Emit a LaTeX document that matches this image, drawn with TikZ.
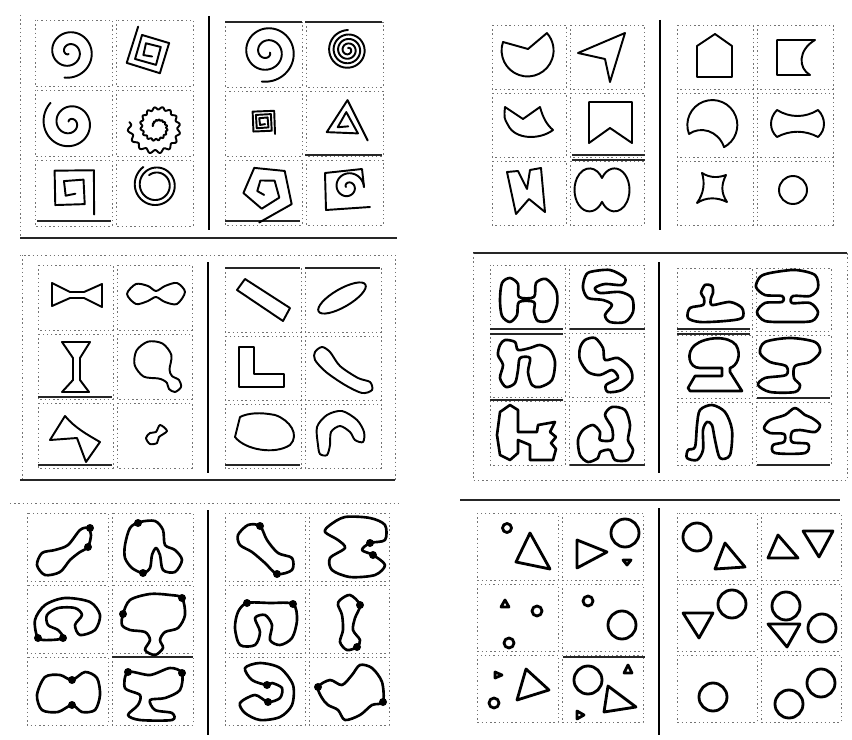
\documentclass[tikz,border=0pt]{standalone}

\begin{document}
\begin{tikzpicture}[x=0.02cm, y=-0.02cm]
    \tikzstyle{figline}=[line width=1.1pt, line join=round, line cap=round]
    \tikzstyle{blobline}=[line width=1.5pt, line join=round]
    \tikzstyle{boldline}=[line width=1.6pt, line join=round]
    \tikzstyle{cell}=[black!55, line width=0.5pt, dash pattern=on 0.8pt off 1.6pt]
    \tikzstyle{rule}=[black!85, line width=0.7pt]
    \tikzstyle{divider}=[line width=1.4pt]
    \tikzstyle{blackdot}=[fill=black]

    \useasboundingbox (0,0) rectangle (852,740);

    % Cell frames (top left corner / width / height of each half)
    \foreach \px/\py/\w/\h in {35/20/77/66, 225/22/77/65, 492/25/74/64, 677/25/76/64,
            38/265/75/65, 225/268/76/64, 490/265/75/64, 677/268/75/63,
            27/513/81/68, 225/513/80/68, 477/513/81/67, 677/513/80/67}
        \foreach \i in {0,1}
            \foreach \j in {0,1,2}
                \draw[cell] ({\px+\i*(\w+4)},{\py+\j*(\h+4)}) rectangle +(\w,\h);

    % Dividers
    \foreach \dx/\ya/\yb in {209/16/230, 660/20/230, 208/262/473, 659/262/473, 208/510/735, 659/508/735}
        \draw[divider] (\dx,\ya) -- (\dx,\yb);

    % Panel frames
    \draw[rule] (20,238) -- (397,238);
    \draw[cell] (20,15) -- (20,238);
    \draw[cell] (20,255) -- (395,255);
    \draw[cell] (22,255) -- (22,480);
    \draw[cell] (395,255) -- (395,480);
    \draw[rule] (20,480) -- (395,480);
    \draw[rule] (473,253) -- (847,253);
    \draw[cell] (473,253) -- (473,480) -- (847,480) -- (847,253);
    \draw[cell] (10,503) -- (400,503);
    \draw[rule] (460,500) -- (840,500);

    % Solid bits of the cell frames
    \foreach \xa/\xb/\ly in {225/302/22, 305/382/22, 305/382/155, 37/111/221, 225/300/221,
            572/645/155, 572/645/160, 38/112/397, 38/112/465, 225/300/268, 305/380/268,
            225/300/465, 490/563/329, 490/563/334, 570/645/329, 490/563/400, 677/750/329,
            677/750/334, 757/830/398, 757/830/465, 570/645/465, 112/193/657, 563/645/657}
        \draw[rule] (\xa,\ly) -- (\xb,\ly);

    % Panel 1: spirals
    \foreach \cx/\cy/\ra/\rb/\turn/\off in {69/52/2/26/720/100, 70/123/2/28/720/226,
            156/185/12/22/720/235, 267/52/3/30/810/10, 348/50/2/20/1440/270, 348/187/2/16/540/180}
        \draw[figline] plot[domain=0:\turn, samples=150, smooth]
            ({\cx+(\ra+(\rb-\ra)*(\x/\turn))*cos(\x+\off)}, {\cy+(\ra+(\rb-\ra)*(\x/\turn))*sin(\x+\off)});
    \foreach \cx/\cy/\ra/\rb/\turn/\s/\off in {150/52/5/28/900/11/65, 263/122/3/17/1080/13/45,
            72/190/5/33/720/9/48, 345/124/4/28/720/7/36, 265/190/5/33/720/11/100}
        \draw[figline] plot[domain=0:\turn, samples=\s]
            ({\cx+(\ra+(\rb-\ra)*(\x/\turn))*cos(\x+\off)}, {\cy+(\ra+(\rb-\ra)*(\x/\turn))*sin(\x+\off)});
    \draw[figline] plot[domain=0:720, samples=300, smooth]
        ({157+(4+24*(\x/720))*(1+0.07*sin(16*\x))*cos(\x+190)}, {127+(4+24*(\x/720))*(1+0.07*sin(16*\x))*sin(\x+190)});
    \draw[figline] (370,207) -- (326,210) -- (325,173) -- (362,169) -- (364,187);

    % Panel 2: polygons and curved shapes
    \draw[figline] (503,42) arc[start angle=199, end angle=-42, radius=26] -- (528,49) -- cycle;
    \draw[figline] (578,53) -- (625,33) -- (610,82) -- (605,59) -- cycle;
    \draw[figline] (505,107) -- (523,119) -- (540,107) .. controls (543,118) and (547,125) .. (553,130)
        .. controls (540,140) and (515,140) .. (508,125) .. controls (504,118) .. cycle;
    \draw[figline] (589,102) -- (632,102) -- (632,143) -- (610,128) -- (589,143) -- cycle;
    \draw[figline] (507,172) -- (518,171) -- (527,189) -- (530,170) -- (541,168) -- (545,212)
        -- (529,199) -- (516,214) -- cycle;
    \draw[figline] (602,178) arc[start angle=-146.4, end angle=146.4, x radius=15, y radius=21.5]
        arc[start angle=33.6, end angle=326.4, x radius=15, y radius=21.5] -- cycle;
    \draw[figline] (697,77) -- (697,46) -- (715,34) -- (732,46) -- (732,77) -- cycle;
    \draw[figline] (777,40) -- (815,40) .. controls (798,50) and (798,68) .. (810,75) -- (777,75) -- cycle;
    \draw[figline] (689,134) arc[start angle=159, end angle=422, radius=25]
        .. controls (718,130) and (700,126) .. cycle;
    \draw[figline] (777,110) .. controls (790,118) and (805,118) .. (818,110)
        .. controls (826,118) and (826,130) .. (818,137) .. controls (805,130) and (790,130) .. (777,137)
        .. controls (769,130) and (769,118) .. cycle;
    \draw[figline] (702,173) .. controls (710,178) and (718,178) .. (726,175)
        .. controls (721,185) and (721,193) .. (727,202) .. controls (717,197) and (706,197) .. (697,203)
        .. controls (704,193) and (705,183) .. cycle;
    \draw[figline] (793,190) circle (14);

    % Panel 3: elongated and compact shapes
    \draw[figline] (52,283) -- (70,292) -- (84,292) -- (102,284) -- (102,307) -- (84,298) -- (70,298) -- (52,306) -- cycle;
    \draw[figline] plot[smooth cycle] coordinates {(127,294) (136,284) (148,286) (156,291) (165,286) (177,283)
        (185,292) (177,304) (165,302) (156,297) (148,301) (136,304)};
    \draw[figline] (62,342) -- (90,342) -- (80,358) -- (80,380) -- (89,392) -- (62,392) -- (73,380) -- (73,358) -- cycle;
    \draw[figline] plot[smooth cycle] coordinates {(157.9,378.4) (143.5,376.5) (134.6,364.9) (136.5,350.5)
        (148.1,341.6) (162.5,343.5) (171.4,355.1) (169.5,369.5) (172,376) (179,380) (181,387) (175,392)
        (169,389) (167,383) (163,380)};
    \draw[figline] (65,416) -- (50,440) -- (77,438) -- (86,462) -- (100,442) .. controls (88,435) and (75,428) .. cycle;
    \draw[figline] plot[smooth cycle] coordinates {(146,438) (150,444) (157,443) (159,437) (167,431)
        (160,425) (156,432) (150,433)};
    \draw[figline] (237,290) -- (245,279) -- (290,308) -- (283,321) -- cycle;
    \draw[figline, rotate around={30:(342,298)}] (342,298) ellipse [x radius=27, y radius=9];
    \draw[figline] (239,347) -- (254,347) -- (254,374) -- (284,374) -- (284,387) -- (239,387) -- cycle;
    \draw[figline] plot[smooth cycle] coordinates {(315,352) (322,347) (330,352) (340,366) (358,378)
        (370,382) (372,390) (362,393) (345,385) (326,372) (315,360)};
    \draw[figline] (240,417) -- (235,437) .. controls (245,450) and (275,455) .. (290,445)
        .. controls (300,435) and (290,420) .. (275,415) .. controls (260,412) and (248,413) .. cycle;
    \draw[figline] plot[smooth cycle] coordinates {(318,445) (317,427) (327,415) (342,411) (357,420)
        (364,432) (363,442) (355,440) (350,432) (340,426) (331,432) (330,445) (327,455) (320,454)};

    % Panel 4: blobs
    \draw[blobline] plot[smooth cycle] coordinates {(510,278) (518,284) (519,297) (534,297) (536,283)
        (546,279) (556,290) (557,305) (550,320) (538,321) (534,312) (534,302) (519,302) (517,315)
        (510,322) (502,316) (500,300) (502,283)};
    \draw[blobline] plot[smooth cycle] coordinates {(590,272) (610,270) (625,278) (622,285) (605,284)
        (595,288) (600,293) (620,292) (632,298) (633,312) (625,322) (610,322) (605,315) (612,305)
        (603,300) (588,298) (583,288) (585,277)};
    \draw[blobline] plot[smooth cycle] coordinates {(505,340) (515,342) (518,350) (530,348) (540,345)
        (550,350) (555,362) (552,380) (540,387) (532,385) (528,372) (530,358) (520,358) (518,370)
        (515,383) (506,387) (500,378) (503,365) (498,355) (500,345)};
    \draw[blobline] plot[smooth cycle] coordinates {(585,340) (595,338) (603,348) (605,360) (618,358)
        (630,368) (632,380) (622,390) (608,392) (606,385) (618,378) (612,370) (600,375) (588,372)
        (580,360) (580,348)};
    \draw[blobline] (500,412) -- (510,405) -- (518,410) -- (518,432) -- (537,432) -- (538,425)
        -- (555,422) -- (550,432) -- (556,437) -- (551,443) -- (556,449) -- (553,460) -- (530,460)
        -- (530,445) -- (518,440) -- (518,453) -- (510,460) -- (500,455) -- (497,435) -- cycle;
    \draw[blobline] plot[smooth cycle] coordinates {(583,430) (593,425) (600,432) (600,440) (612,440)
        (612,428) (605,415) (612,407) (625,410) (630,425) (628,440) (633,450) (628,460) (615,460)
        (610,450) (600,452) (598,458) (588,462) (580,455) (578,440)};
    \draw[blobline] plot[smooth cycle] coordinates {(705,285) (712,286) (713,293) (711,298) (712,305)
        (730,302) (742,308) (742,318) (725,321) (700,322) (688,318) (690,308) (703,305) (704,298)
        (701,293)};
    \draw[blobline] plot[smooth cycle] coordinates {(770,273) (795,270) (815,275) (818,288) (810,296)
        (793,296) (792,303) (810,303) (818,312) (812,321) (790,322) (765,321) (757,312) (765,303)
        (782,302) (782,296) (765,295) (756,287) (760,277)};
    \draw[blobline] (688,388) -- (695,376) -- (722,376) -- (722,368) -- (700,368)
        .. controls (688,368) and (686,352) .. (695,345) .. controls (705,337) and (728,335) .. (736,345)
        .. controls (742,355) and (737,366) .. (730,368) -- (730,372) -- (742,391) -- (690,391) -- cycle;
    \draw[blobline] plot[smooth cycle] coordinates {(765,342) (790,338) (815,342) (820,352) (810,362)
        (795,366) (794,378) (800,385) (795,392) (770,392) (758,385) (765,378) (786,375) (786,366)
        (770,362) (760,353)};
    \draw[blobline] plot[smooth cycle] coordinates {(700,410) (712,405) (725,412) (732,430) (730,455)
        (720,458) (715,440) (712,425) (707,422) (703,430) (703,450) (697,460) (687,458) (688,450)
        (695,447) (697,425)};
    \draw[blobline] plot[smooth cycle] coordinates {(770,420) (785,415) (795,408) (805,415) (812,418)
        (820,425) (815,432) (800,430) (792,432) (792,442) (808,444) (805,453) (775,453) (773,445)
        (784,442) (784,434) (770,433) (764,428)};

    % Panel 5: outlines with marked points
    \draw[blobline] plot[smooth cycle] coordinates {(80,530) (88,528) (91,535) (88,547) (80,552)
        (70,560) (60,572) (45,575) (37,565) (42,553) (55,550) (68,545)};
    \draw[blobline] plot[smooth cycle] coordinates {(125,545) (130,528) (140,522) (155,521) (163,530)
        (165,545) (175,550) (182,560) (175,572) (163,570) (160,555) (156,548) (152,555) (150,568)
        (143,573) (132,568) (125,558)};
    \draw[blobline] plot[smooth cycle] coordinates {(38,638) (35,620) (45,605) (65,598) (90,602)
        (100,615) (95,630) (80,635) (75,625) (82,615) (75,608) (58,608) (47,615) (48,625) (58,630)
        (63,638) (50,640)};
    \draw[blobline] plot[smooth cycle] coordinates {(123,614) (130,600) (150,594) (170,595) (182,598)
        (185,615) (178,628) (165,632) (160,640) (163,648) (155,655) (145,650) (150,640) (145,632)
        (130,630) (122,625)};
    \draw[blobline] plot[smooth cycle] coordinates {(45,677) (60,675) (72,680) (85,672) (97,678)
        (100,695) (95,710) (82,712) (72,705) (58,712) (42,710) (37,695)};
    \draw[blobline] plot[smooth cycle] coordinates {(128,672) (150,675) (170,668) (182,673) (180,690)
        (165,698) (150,700) (155,710) (172,713) (172,720) (140,720) (128,715) (138,705) (140,695)
        (125,688)};
    \draw[blobline] plot[smooth cycle] coordinates {(238,535) (248,525) (260,526) (267,540) (278,553)
        (292,558) (292,570) (277,574) (265,563) (252,552) (240,545)};
    \draw[blobline] plot[smooth cycle] coordinates {(330,525) (345,517) (370,518) (385,525) (385,540)
        (370,543) (362,550) (373,555) (385,565) (375,575) (350,577) (332,570) (330,558) (345,548)
        (338,540) (325,532)};
    \draw[blobline] plot[smooth cycle] coordinates {(247,603) (270,603) (293,604) (297,620) (292,638)
        (280,645) (270,640) (272,625) (265,615) (255,618) (260,632) (255,645) (240,645) (235,628)
        (238,612)};
    \draw[blobline] plot[smooth cycle] coordinates {(340,600) (350,595) (360,605) (355,618) (353,630)
        (360,640) (357,647) (347,650) (340,642) (343,630) (342,615) (338,605)};
    \draw[blobline] plot[smooth cycle] coordinates {(245,668) (260,663) (280,668) (293,685) (292,705)
        (280,717) (260,720) (245,713) (240,703) (255,695) (268,702) (280,698) (282,688) (272,683)
        (267,685) (252,680)};
    \draw[blobline] plot[smooth cycle] coordinates {(318,687) (330,680) (342,685) (352,675) (360,665)
        (372,668) (382,682) (383,702) (372,705) (360,715) (345,720) (338,710) (328,705) (322,698)};
    \foreach \dx/\dy in {90/528, 88/547, 138/523, 143/573, 38/638, 63/638, 182/598, 123/614,
            72/680, 72/705, 128/672, 182/673, 260/526, 277/574, 370/543, 373/555, 247/603, 293/604,
            360/605, 357/647, 267/685, 268/702, 318/687, 383/702}
        \fill[blackdot] (\dx,\dy) circle (4);

    % Panel 6: circles and triangles
    \draw[boldline] (507,528) circle (4.5);
    \draw[boldline] (530,533) -- (550,569) -- (516,562) -- cycle;
    \draw[boldline] (577,540) -- (607,552) -- (577,568) -- cycle;
    \draw[boldline] (625,533) circle (14);
    \draw[boldline] (623,560) -- (631,560) -- (627,565) -- cycle;
    \draw[boldline] (501,607) -- (505,600) -- (509,607) -- cycle;
    \draw[boldline] (537,611) circle (5);
    \draw[boldline] (509,643) circle (5);
    \draw[boldline] (588,601) circle (5);
    \draw[boldline] (622,625) circle (14);
    \draw[boldline] (495,672) -- (502,675) -- (495,678) -- cycle;
    \draw[boldline] (494,703) circle (5);
    \draw[boldline] (526,669) -- (549,690) -- (517,700) -- cycle;
    \draw[boldline] (588,680) circle (14);
    \draw[boldline] (624,673) -- (628,665) -- (632,673) -- cycle;
    \draw[boldline] (608,686) -- (636,707) -- (604,712) -- cycle;
    \draw[boldline] (577,711) -- (584,715) -- (577,719) -- cycle;
    \draw[boldline] (697,537) circle (14);
    \draw[boldline] (725,543) -- (745,567) -- (715,569) -- cycle;
    \draw[boldline] (778,535) -- (798,558) -- (768,558) -- cycle;
    \draw[boldline] (803,531) -- (833,531) -- (819,557) -- cycle;
    \draw[boldline] (683,613) -- (713,613) -- (699,638) -- cycle;
    \draw[boldline] (732,604) circle (14);
    \draw[boldline] (786,606) circle (14);
    \draw[boldline] (768,624) -- (800,624) -- (787,647) -- cycle;
    \draw[boldline] (822,628) circle (14);
    \draw[boldline] (713,697) circle (14);
    \draw[boldline] (789,704) circle (14);
    \draw[boldline] (821,683) circle (14);

\end{tikzpicture}
\end{document}
